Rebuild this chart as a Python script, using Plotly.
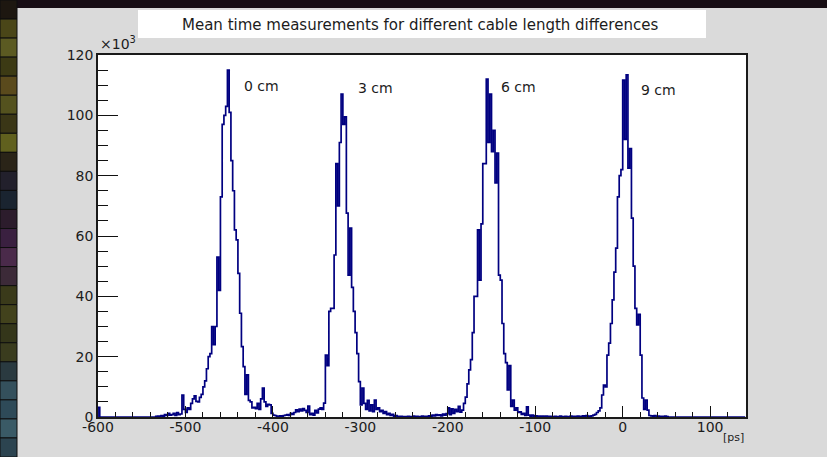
import numpy as np
import plotly.graph_objects as go

# ---------------------------------------------------------------------------
# Histogram of mean time differences, 2 ps bins, counts in units of 10^3
# ---------------------------------------------------------------------------
BIN_WIDTH = 2.0
HIST_MIN = -600.0
HIST_MAX = 140.0

first_bin_start = -600
first_bin_counts = [3.2]

# 0 cm cable length difference (left edge of first bin: -534 ps)
peak_0cm_start = -534
peak_0cm_counts = [
    0.2, 0.3, 0.2, 0.5, 0.3, 0.8, 0.5, 1.2, 0.6, 0.8,      # -534 .. -516
    1.2, 0.5, 1.5, 0.8, 1.0, 7.3, 2.5, 1.5, 3.0, 2.5,      # -514 .. -496
    4.5, 6.0, 7.0, 5.2, 5.0, 6.5, 7.5, 10.0, 12.0, 16.0,   # -494 .. -476
    20.0, 21.0, 30.0, 24.0, 30.0, 53.0, 42.0, 73.0, 97.0, 100.0,  # -474 .. -456
    103.0, 115.0, 101.0, 85.0, 75.0, 62.0, 58.7, 47.6, 34.4, 23.3,  # -454 .. -436
    16.7, 7.5, 14.0, 5.5, 5.0, 3.0, 3.2, 2.8, 4.5, 2.5,    # -434 .. -416
    6.0, 9.6, 5.0, 3.5, 4.2, 4.0, 1.2, 0.6, 0.5, 0.3,      # -414 .. -396
]

# 3 cm
peak_3cm_start = -394
peak_3cm_counts = [
    0.2, 0.4, 0.3, 0.5, 0.6, 0.8, 0.5, 1.2, 0.9, 1.5,      # -394 .. -376
    2.4, 1.8, 2.6, 2.0, 2.8, 2.2, 1.5, 3.6, 0.8, 1.2,      # -374 .. -356
    0.6, 2.2, 1.4, 2.6, 3.0, 2.5, 4.6, 20.5, 17.0, 35.0,   # -354 .. -336
    36.0, 36.0, 53.7, 84.0, 70.0, 91.0, 107.0, 97.0, 99.5, 67.6,  # -334 .. -316
    47.0, 62.6, 43.0, 35.0, 28.0, 21.0, 11.7, 4.0, 9.6, 4.5,  # -314 .. -296
    2.5, 5.5, 2.0, 4.0, 1.8, 5.6, 2.5, 3.0, 1.8, 2.2,      # -294 .. -276
    1.2, 1.8, 0.8, 1.2, 0.5, 0.9, 0.3, 0.5, 0.2, 0.1,      # -274 .. -256
]

# 6 cm
peak_6cm_start = -254
peak_6cm_counts = [
    0.2, 0.0, 0.1, 0.0, 0.2, 0.1, 0.0, 0.3, 0.1, 0.2,      # -254 .. -236
    0.0, 0.1, 0.3, 0.1, 0.2, 0.2, 0.4, 0.3, 0.6, 0.4,      # -234 .. -216
    0.8, 0.5, 0.7, 0.4, 1.0, 0.6, 1.1, 3.0, 0.8, 2.7,      # -214 .. -196
    1.2, 2.5, 1.8, 3.5, 1.6, 2.3, 4.5, 6.6, 11.0, 15.6,    # -194 .. -176
    19.0, 28.0, 40.0, 40.0, 62.0, 45.4, 64.0, 84.0, 84.0, 112.0,  # -174 .. -156
    91.0, 107.0, 88.0, 95.0, 77.6, 87.5, 47.0, 45.4, 31.0, 21.0,  # -154 .. -136
    18.0, 9.0, 17.0, 3.5, 5.6, 2.3, 3.0, 1.5, 1.7, 0.9,    # -134 .. -116
    1.2, 0.5, 3.4, 0.6, 0.3, 0.6, 0.2, 0.4, 0.1, 0.3,      # -114 .. -96
]

# 9 cm
peak_9cm_start = -94
peak_9cm_counts = [
    0.2, 0.3, 0.1, 0.3, 0.0, 0.2, 0.1, 0.0, 0.2, 0.0,      # -94 .. -76
    0.1, 0.3, 0.0, 0.1, 0.2, 0.0, 0.1, 0.3, 0.0, 0.2,      # -74 .. -56
    0.1, 0.3, 0.2, 0.1, 0.4, 0.2, 0.5, 0.3, 0.2, 0.4,      # -54 .. -36
    0.6, 0.9, 1.5, 2.0, 3.0, 7.3, 10.6, 10.0, 20.5, 24.5,  # -34 .. -16
    31.0, 38.8, 48.0, 56.0, 73.0, 80.0, 82.0, 111.7, 92.0, 113.4,  # -14 .. 4
    82.5, 89.0, 65.9, 50.0, 36.0, 30.5, 34.0, 20.5, 6.3, 2.5,  # 6 .. 24
    5.6, 2.3, 0.5, 0.4, 0.2, 0.5, 0.1, 0.3, 0.0, 0.2,      # 26 .. 44
    0.0, 0.3, 0.1, 0.0,                                    # 46 .. 52
]

# Peak labels: (text, x [ps], y [10^3])
label_texts = ["0 cm", "3 cm", "6 cm", "9 cm"]
label_x = [-435.0, -304.5, -141.5, 18.5]
label_y = [109.7, 109.0, 109.5, 108.5]

# Axis ticks
x_tick_vals = [-600, -500, -400, -300, -200, -100, 0, 100]
x_tick_text = ["-600", "-500", "-400", "-300", "-200", "-100", "0", "100"]
y_tick_vals = [0, 20, 40, 60, 80, 100, 120]
y_tick_text = ["0", "20", "40", "60", "80", "100", "120"]

TITLE = "Mean time measurements for different cable length differences"

# ---------------------------------------------------------------------------
# Build the step outline
# ---------------------------------------------------------------------------
n_bins = int(round((HIST_MAX - HIST_MIN) / BIN_WIDTH))
counts = np.zeros(n_bins)
for start, vals in [
    (first_bin_start, first_bin_counts),
    (peak_0cm_start, peak_0cm_counts),
    (peak_3cm_start, peak_3cm_counts),
    (peak_6cm_start, peak_6cm_counts),
    (peak_9cm_start, peak_9cm_counts),
]:
    i0 = int(round((start - HIST_MIN) / BIN_WIDTH))
    counts[i0:i0 + len(vals)] = vals

edges = HIST_MIN + BIN_WIDTH * np.arange(n_bins + 1)
step_x = np.concatenate([[edges[0]], edges[:-1], [edges[-1]], [edges[-1]]])
step_y = np.concatenate([[0.0], counts, [counts[-1]], [0.0]])

# ---------------------------------------------------------------------------
# Figure geometry (pixels)
# ---------------------------------------------------------------------------
W, H = 827, 457
L, R, T, B = 98, 81, 55, 40
PW, PH = W - L - R, H - T - B


def px(x):
    return (x - L) / PW


def py(y):
    return (H - B - y) / PH


FONT = "DejaVu Sans"
LINE_COLOR = "#000080"
TEXT_COLOR = "#1c1c1c"

fig = go.Figure()
fig.add_trace(go.Scatter(
    x=step_x, y=step_y, mode="lines",
    line=dict(color=LINE_COLOR, width=1.7, shape="hv"),
    hoverinfo="skip", showlegend=False,
))

for t, xv, yv in zip(label_texts, label_x, label_y):
    fig.add_annotation(x=xv, y=yv, text=t, showarrow=False, xanchor="left",
                       yanchor="middle", font=dict(family=FONT, size=14, color=TEXT_COLOR))

shapes = []
# dark surround at top and on the left edge
shapes.append(dict(type="rect", xref="paper", yref="paper", x0=px(0), x1=px(W),
                   y0=py(8), y1=py(0), fillcolor="#170d14", line_width=0, layer="below"))
strip_colors = ["#1d1710", "#4a4618", "#5b5a22", "#3c3a14", "#5a4a1c", "#54521e",
                "#3a3616", "#60601e", "#2a2418", "#22202c", "#1a2430", "#2c1c2c",
                "#3a2040", "#4a2a4a", "#3c2a38", "#3a3a1a", "#42421c", "#34361a",
                "#3a3c1e", "#2a3a40", "#34505c", "#2e4a58", "#3a5a66", "#2c4450"]
seg_h = H / len(strip_colors)
for k, c in enumerate(strip_colors):
    shapes.append(dict(type="rect", xref="paper", yref="paper", x0=px(0), x1=px(17),
                       y0=py((k + 1) * seg_h), y1=py(k * seg_h), fillcolor=c,
                       line=dict(color="#0e0e0e", width=1), layer="below"))
# title box
shapes.append(dict(type="rect", xref="paper", yref="paper", x0=px(138), x1=px(706),
                   y0=py(38), y1=py(10), fillcolor="white", line_width=0, layer="below"))

fig.add_annotation(xref="paper", yref="paper", x=px(420), y=py(24.5), text=TITLE,
                   showarrow=False, xanchor="center", yanchor="middle",
                   font=dict(family=FONT, size=15, color=TEXT_COLOR))
fig.add_annotation(xref="paper", yref="paper", x=0.0, y=py(54), text="\u00d710<sup>3</sup>",
                   showarrow=False, xanchor="left", yanchor="bottom",
                   font=dict(family=FONT, size=14, color=TEXT_COLOR))
fig.add_annotation(xref="paper", yref="paper", x=1.0, y=py(437), text="[ps]",
                   showarrow=False, xanchor="right", yanchor="middle",
                   font=dict(family=FONT, size=11, color=TEXT_COLOR))

axis_common = dict(
    showgrid=False, zeroline=False, showline=True, mirror=True,
    linecolor="#1a1a1a", linewidth=1.5, ticks="inside", tickcolor="#111",
    tickwidth=1.4, tickmode="array",
    tickfont=dict(family=FONT, size=14, color=TEXT_COLOR),
)

fig.update_layout(
    width=W, height=H, autosize=False,
    margin=dict(l=L, r=R, t=T, b=B, pad=0),
    paper_bgcolor="#dadada", plot_bgcolor="white",
    shapes=shapes,
    xaxis=dict(axis_common, range=[HIST_MIN, 141], tickvals=x_tick_vals,
               ticktext=x_tick_text, ticklen=11, ticklabelstandoff=-4,
               minor=dict(tickmode="linear", tick0=-600, dtick=20, ticks="inside",
                          ticklen=5.5, tickwidth=1.2, tickcolor="#111", showgrid=False)),
    yaxis=dict(axis_common, range=[0, 120], tickvals=y_tick_vals,
               ticktext=y_tick_text, ticklen=20,
               minor=dict(tickmode="linear", tick0=0, dtick=5, ticks="inside",
                          ticklen=10, tickwidth=1.2, tickcolor="#111", showgrid=False)),
)

fig.write_html("out.html")
